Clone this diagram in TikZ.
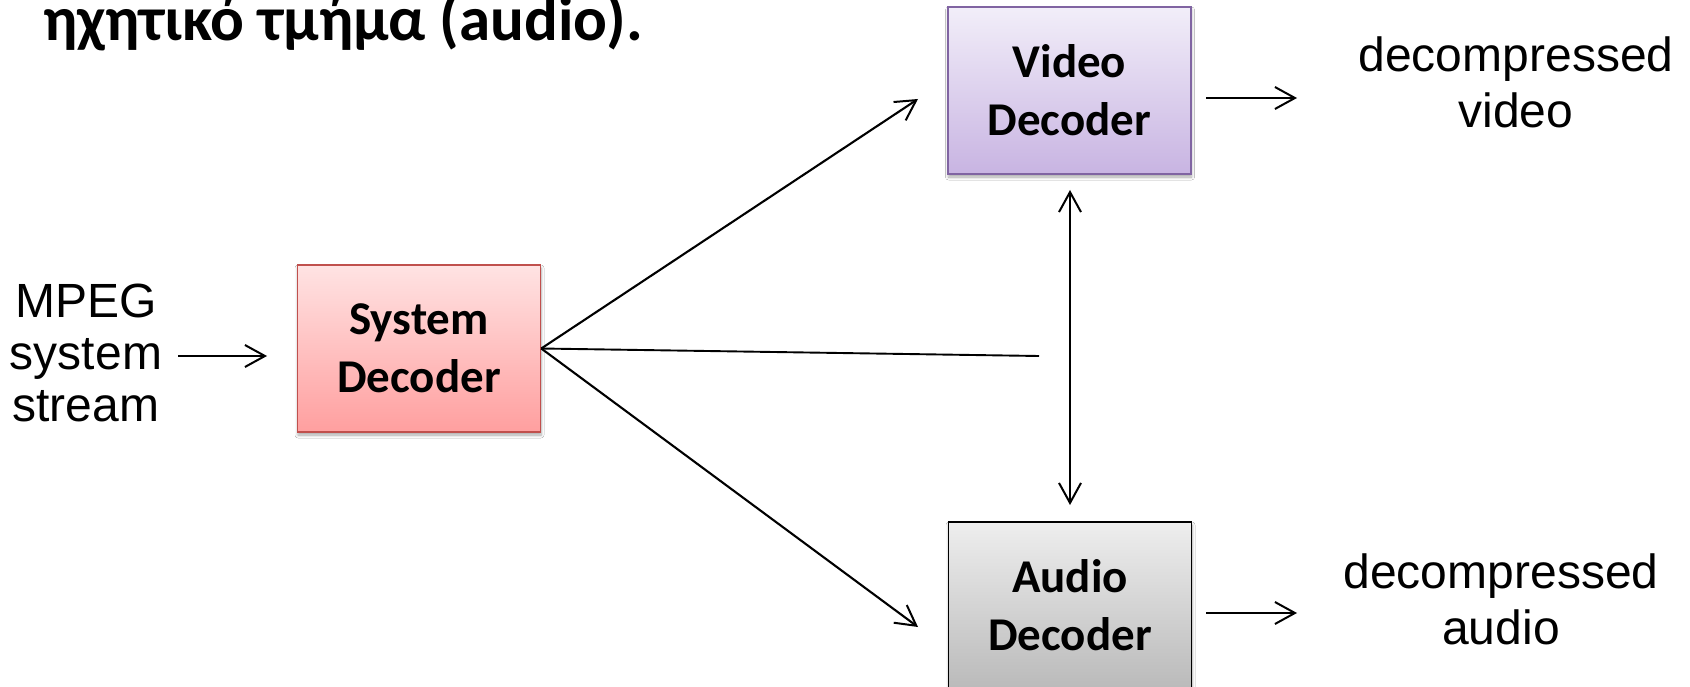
\documentclass[tikz,border=0pt]{standalone}
\usepackage{fontspec}
\setmainfont{Liberation Sans}
\newfontfamily\carlito{Carlito}
\usetikzlibrary{arrows.meta,shadows.blur}
\definecolor{sysTop}{HTML}{FFE3E3}
\definecolor{sysBot}{HTML}{FF9F9F}
\definecolor{sysLine}{HTML}{C0504D}
\definecolor{vidTop}{HTML}{F2EEF9}
\definecolor{vidBot}{HTML}{C8B4E2}
\definecolor{vidLine}{HTML}{8064A2}
\definecolor{audTop}{HTML}{EEEEEE}
\definecolor{audBot}{HTML}{BABABA}
\begin{document}
\begin{tikzpicture}[x=1pt,y=-1pt,
  tip/.tip={Straight Barb[length=20pt,width=22pt,line width=2pt]},
  arr/.style={line width=2.1pt,-tip},
  dbl/.style={line width=2.1pt,tip-tip},
  plain/.style={line width=1.9pt},
  box/.style={draw,line width=1.5pt,minimum width=243pt,minimum height=167pt,
    inner sep=0pt,align=center,
    font=\carlito\bfseries\fontsize{47}{58}\selectfont,
    blur shadow={shadow xshift=0.5pt,shadow yshift=-3pt,shadow blur steps=6,
      shadow blur radius=3pt,shadow opacity=35}},
  lbl/.style={inner sep=0pt,align=center,font=\fontsize{48}{56}\selectfont}
]
\fill[white] (0,0) rectangle (1690,687);
\useasboundingbox (0,0) rectangle (1690,687);

\node[anchor=base west,inner sep=0pt,font=\carlito\bfseries\fontsize{63}{70}\selectfont]
  (title) at (43,41) {ηχητικό τμήμα (audio).};

\node[box,draw=sysLine,top color=sysTop,bottom color=sysBot] (sys) at (419,348.5) {System\\Decoder};
\node[box,draw=vidLine,top color=vidTop,bottom color=vidBot] (vid) at (1069.5,90.5) {Video\\Decoder};
\node[box,draw=black,top color=audTop,bottom color=audBot] (aud) at (1070,605.5) {Audio\\Decoder};

\node[lbl,font=\fontsize{48}{52}\selectfont] (mpeg) at (86,353) {MPEG\\system\\stream};
\node[lbl] (vout) at (1516,82.5) {decompressed\\video};
\node[lbl] (aout) at (1501,599) {decompressed\\audio};

\coordinate (mi1) at (178,356);
\coordinate (mi2) at (267,356);
\coordinate (vin) at (918,99);
\coordinate (ain) at (918,627);
\coordinate (hx) at (1039,356);
\coordinate (vtop) at (1070,190);
\coordinate (vbot) at (1070,505);
\coordinate (vo1) at (1206,98);
\coordinate (vo2) at (1297,98);
\coordinate (ao1) at (1206,613);
\coordinate (ao2) at (1297,613);

\draw[arr] (mi1) -- (mi2);
\draw[arr] (sys.east) -- (vin);
\draw[arr] (sys.east) -- (ain);
\draw[plain] (sys.east) -- (hx);
\draw[dbl] (vtop) -- (vbot);
\draw[arr] (vo1) -- (vo2);
\draw[arr] (ao1) -- (ao2);
\end{tikzpicture}
\end{document}
